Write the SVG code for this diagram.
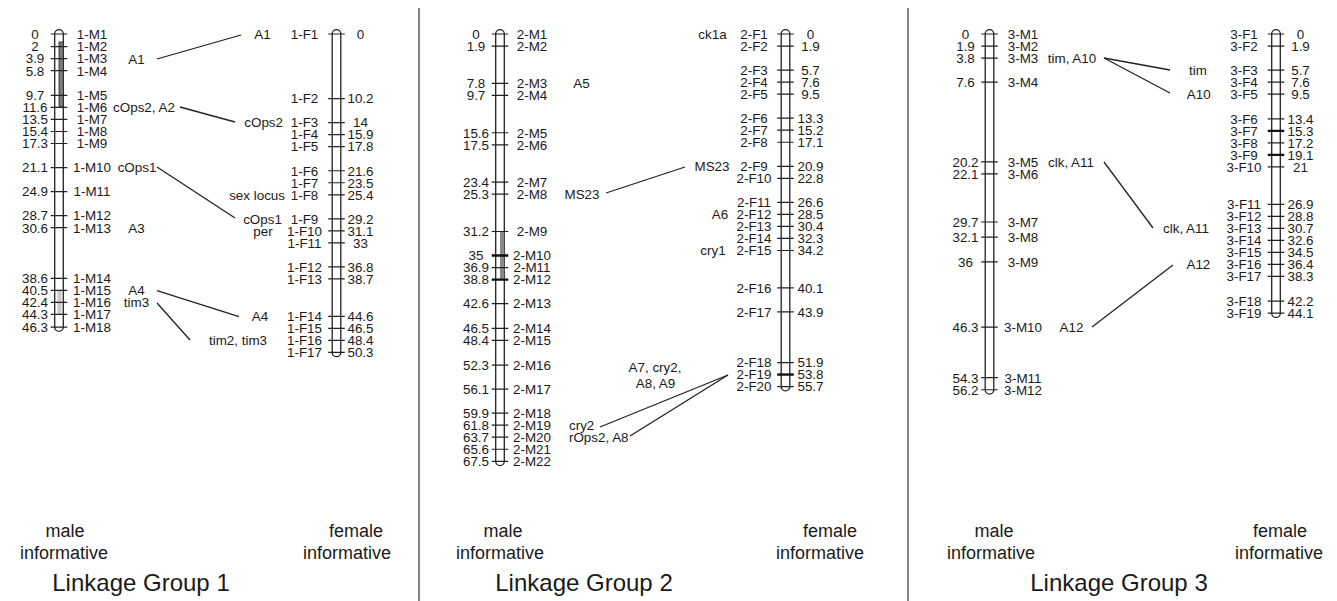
<svg xmlns="http://www.w3.org/2000/svg" width="1337" height="601" viewBox="0 0 1337 601">
<style>
text{font-family:"Liberation Sans",Arial,sans-serif;fill:#1a1a1a}
.t{font-size:13.4px;text-anchor:middle}
.e{font-size:13.4px;text-anchor:end}
.b{font-size:18px;text-anchor:middle}
.g{font-size:24px;text-anchor:middle}
.bar{fill:#fff;stroke:#222;stroke-width:1.3}
.tk{fill:none;stroke:#222;stroke-width:1.2}
.tb{fill:none;stroke:#111;stroke-width:2.4}
.sep{stroke:#333;stroke-width:1.2}
.cn{stroke:#222;stroke-width:1.3;fill:none}
</style>
<g id="separators">
<line class="sep" x1="419" y1="8" x2="419" y2="601"/>
<line class="sep" x1="908" y1="8" x2="908" y2="601"/>
</g>

<g id="lg1-male">
<path class="bar" d="M54.7,327.08 V34 A4.3,4.3 0 0 1 63.3,34 V327.08 A4.3,4.3 0 0 1 54.7,327.08 Z"/>
<rect x="59" y="42" width="4.3" height="65" fill="#7a7a7a" stroke="#222" stroke-width="0.8"/>
<rect x="57.5" y="290.4" width="4" height="24" fill="#c8c8c8"/>
<path class="tk" d="M50.7,34h16.6M50.7,46.66h16.6M50.7,58.69h16.6M50.7,70.71h16.6M50.7,95.4h16.6M50.7,107.43h16.6M50.7,119.46h16.6M50.7,131.48h16.6M50.7,143.51h16.6M50.7,167.56h16.6M50.7,191.62h16.6M50.7,215.67h16.6M50.7,227.7h16.6M50.7,278.34h16.6M50.7,290.37h16.6M50.7,302.39h16.6M50.7,314.42h16.6M50.7,327.08h16.6"/>
<text class="t" x="35" y="38.8">0</text><text class="t" x="92" y="38.8">1-M1</text>
<text class="t" x="35" y="51.46">2</text><text class="t" x="92" y="51.46">1-M2</text>
<text class="t" x="35" y="63.49">3.9</text><text class="t" x="92" y="63.49">1-M3</text>
<text class="t" x="35" y="75.51">5.8</text><text class="t" x="92" y="75.51">1-M4</text>
<text class="t" x="35" y="100.2">9.7</text><text class="t" x="92" y="100.2">1-M5</text>
<text class="t" x="35" y="112.23">11.6</text><text class="t" x="92" y="112.23">1-M6</text>
<text class="t" x="35" y="124.26">13.5</text><text class="t" x="92" y="124.26">1-M7</text>
<text class="t" x="35" y="136.28">15.4</text><text class="t" x="92" y="136.28">1-M8</text>
<text class="t" x="35" y="148.31">17.3</text><text class="t" x="92" y="148.31">1-M9</text>
<text class="t" x="35" y="172.36">21.1</text><text class="t" x="92" y="172.36">1-M10</text>
<text class="t" x="35" y="196.42">24.9</text><text class="t" x="92" y="196.42">1-M11</text>
<text class="t" x="35" y="220.47">28.7</text><text class="t" x="92" y="220.47">1-M12</text>
<text class="t" x="35" y="232.5">30.6</text><text class="t" x="92" y="232.5">1-M13</text>
<text class="t" x="35" y="283.14">38.6</text><text class="t" x="92" y="283.14">1-M14</text>
<text class="t" x="35" y="295.17">40.5</text><text class="t" x="92" y="295.17">1-M15</text>
<text class="t" x="35" y="307.19">42.4</text><text class="t" x="92" y="307.19">1-M16</text>
<text class="t" x="35" y="319.22">44.3</text><text class="t" x="92" y="319.22">1-M17</text>
<text class="t" x="35" y="331.88">46.3</text><text class="t" x="92" y="331.88">1-M18</text>
<text class="t" x="136.5" y="63.5">A1</text>
<text class="t" x="144" y="112.2">cOps2, A2</text>
<text class="t" x="137" y="172.4">cOps1</text>
<text class="t" x="136.5" y="232.5">A3</text>
<text class="t" x="136.5" y="295.2">A4</text>
<text class="t" x="136.5" y="307.2">tim3</text>
<text class="b" x="65" y="537">male</text>
<text class="b" x="64" y="559">informative</text>
</g>

<g id="lg1-female">
<path class="bar" d="M332.2,352.4 V34 A4.3,4.3 0 0 1 340.8,34 V352.4 A4.3,4.3 0 0 1 332.2,352.4 Z"/>
<path class="tk" d="M328.2,34h16.6M328.2,98.57h16.6M328.2,122.62h16.6M328.2,134.65h16.6M328.2,146.67h16.6M328.2,170.73h16.6M328.2,182.76h16.6M328.2,194.78h16.6M328.2,218.84h16.6M328.2,230.86h16.6M328.2,242.89h16.6M328.2,266.94h16.6M328.2,278.97h16.6M328.2,316.32h16.6M328.2,328.35h16.6M328.2,340.37h16.6M328.2,352.4h16.6"/>
<text class="t" x="304.5" y="38.8">1-F1</text><text class="t" x="360.5" y="38.8">0</text>
<text class="t" x="304.5" y="103.37">1-F2</text><text class="t" x="360.5" y="103.37">10.2</text>
<text class="t" x="304.5" y="127.42">1-F3</text><text class="t" x="360.5" y="127.42">14</text>
<text class="t" x="304.5" y="139.45">1-F4</text><text class="t" x="360.5" y="139.45">15.9</text>
<text class="t" x="304.5" y="151.47">1-F5</text><text class="t" x="360.5" y="151.47">17.8</text>
<text class="t" x="304.5" y="175.53">1-F6</text><text class="t" x="360.5" y="175.53">21.6</text>
<text class="t" x="304.5" y="187.56">1-F7</text><text class="t" x="360.5" y="187.56">23.5</text>
<text class="t" x="304.5" y="199.58">1-F8</text><text class="t" x="360.5" y="199.58">25.4</text>
<text class="t" x="304.5" y="223.64">1-F9</text><text class="t" x="360.5" y="223.64">29.2</text>
<text class="t" x="304.5" y="235.66">1-F10</text><text class="t" x="360.5" y="235.66">31.1</text>
<text class="t" x="304.5" y="247.69">1-F11</text><text class="t" x="360.5" y="247.69">33</text>
<text class="t" x="304.5" y="271.74">1-F12</text><text class="t" x="360.5" y="271.74">36.8</text>
<text class="t" x="304.5" y="283.77">1-F13</text><text class="t" x="360.5" y="283.77">38.7</text>
<text class="t" x="304.5" y="321.12">1-F14</text><text class="t" x="360.5" y="321.12">44.6</text>
<text class="t" x="304.5" y="333.15">1-F15</text><text class="t" x="360.5" y="333.15">46.5</text>
<text class="t" x="304.5" y="345.17">1-F16</text><text class="t" x="360.5" y="345.17">48.4</text>
<text class="t" x="304.5" y="357.2">1-F17</text><text class="t" x="360.5" y="357.2">50.3</text>
<text class="t" x="262.5" y="38.8">A1</text>
<text class="e" x="283" y="127.4">cOps2</text>
<text class="e" x="285" y="199.6">sex locus</text>
<text class="t" x="262.5" y="223.6">cOps1</text>
<text class="t" x="263" y="235.7">per</text>
<text class="t" x="260" y="321.1">A4</text>
<text class="t" x="238" y="345.2">tim2, tim3</text>
<text class="b" x="356" y="537">female</text>
<text class="b" x="347" y="559">informative</text>
</g>
<text class="g" x="141" y="591">Linkage Group 1</text>

<g id="lg2-male">
<path class="bar" d="M495.7,461.28 V34 A4.3,4.3 0 0 1 504.3,34 V461.28 A4.3,4.3 0 0 1 495.7,461.28 Z"/>
<rect x="500" y="231.5" width="4.3" height="48" fill="#8a8a8a"/>
<path class="tk" d="M491.7,34h16.6M491.7,46.03h16.6M491.7,83.37h16.6M491.7,95.4h16.6M491.7,132.75h16.6M491.7,144.78h16.6M491.7,182.12h16.6M491.7,194.15h16.6M491.7,231.5h16.6M491.7,267.58h16.6M491.7,303.66h16.6M491.7,328.35h16.6M491.7,340.37h16.6M491.7,365.06h16.6M491.7,389.11h16.6M491.7,413.17h16.6M491.7,425.19h16.6M491.7,437.22h16.6M491.7,449.25h16.6M491.7,461.28h16.6"/>
<path class="tb" d="M491.7,255.55h16.6M491.7,279.6h16.6"/>
<text class="t" x="476" y="38.8">0</text><text class="t" x="532" y="38.8">2-M1</text>
<text class="t" x="476" y="50.83">1.9</text><text class="t" x="532" y="50.83">2-M2</text>
<text class="t" x="476" y="88.17">7.8</text><text class="t" x="532" y="88.17">2-M3</text>
<text class="t" x="476" y="100.2">9.7</text><text class="t" x="532" y="100.2">2-M4</text>
<text class="t" x="476" y="137.55">15.6</text><text class="t" x="532" y="137.55">2-M5</text>
<text class="t" x="476" y="149.58">17.5</text><text class="t" x="532" y="149.58">2-M6</text>
<text class="t" x="476" y="186.92">23.4</text><text class="t" x="532" y="186.92">2-M7</text>
<text class="t" x="476" y="198.95">25.3</text><text class="t" x="532" y="198.95">2-M8</text>
<text class="t" x="476" y="236.3">31.2</text><text class="t" x="532" y="236.3">2-M9</text>
<text class="t" x="476" y="260.35">35</text><text class="t" x="532" y="260.35">2-M10</text>
<text class="t" x="476" y="272.38">36.9</text><text class="t" x="532" y="272.38">2-M11</text>
<text class="t" x="476" y="284.4">38.8</text><text class="t" x="532" y="284.4">2-M12</text>
<text class="t" x="476" y="308.46">42.6</text><text class="t" x="532" y="308.46">2-M13</text>
<text class="t" x="476" y="333.15">46.5</text><text class="t" x="532" y="333.15">2-M14</text>
<text class="t" x="476" y="345.17">48.4</text><text class="t" x="532" y="345.17">2-M15</text>
<text class="t" x="476" y="369.86">52.3</text><text class="t" x="532" y="369.86">2-M16</text>
<text class="t" x="476" y="393.91">56.1</text><text class="t" x="532" y="393.91">2-M17</text>
<text class="t" x="476" y="417.97">59.9</text><text class="t" x="532" y="417.97">2-M18</text>
<text class="t" x="476" y="429.99">61.8</text><text class="t" x="532" y="429.99">2-M19</text>
<text class="t" x="476" y="442.02">63.7</text><text class="t" x="532" y="442.02">2-M20</text>
<text class="t" x="476" y="454.05">65.6</text><text class="t" x="532" y="454.05">2-M21</text>
<text class="t" x="476" y="466.08">67.5</text><text class="t" x="532" y="466.08">2-M22</text>
<text class="t" x="581.5" y="88.2">A5</text>
<text class="t" x="582" y="199">MS23</text>
<text x="569" y="430" font-size="13.4">cry2</text>
<text x="569" y="442" font-size="13.4">rOps2, A8</text>
<text class="b" x="503" y="537">male</text>
<text class="b" x="500" y="559">informative</text>
</g>

<g id="lg2-female">
<path class="bar" d="M781.2,386.58 V34 A4.3,4.3 0 0 1 789.8,34 V386.58 A4.3,4.3 0 0 1 781.2,386.58 Z"/>
<path class="tk" d="M777.2,34h16.6M777.2,46.03h16.6M777.2,70.08h16.6M777.2,82.11h16.6M777.2,94.14h16.6M777.2,118.19h16.6M777.2,130.22h16.6M777.2,142.24h16.6M777.2,166.3h16.6M777.2,178.32h16.6M777.2,202.38h16.6M777.2,214.41h16.6M777.2,226.43h16.6M777.2,238.46h16.6M777.2,250.49h16.6M777.2,287.83h16.6M777.2,311.89h16.6M777.2,362.53h16.6M777.2,386.58h16.6"/>
<path class="tb" d="M777.2,374.55h16.6"/>
<text class="t" x="754" y="38.8">2-F1</text><text class="t" x="810.5" y="38.8">0</text>
<text class="t" x="754" y="50.83">2-F2</text><text class="t" x="810.5" y="50.83">1.9</text>
<text class="t" x="754" y="74.88">2-F3</text><text class="t" x="810.5" y="74.88">5.7</text>
<text class="t" x="754" y="86.91">2-F4</text><text class="t" x="810.5" y="86.91">7.6</text>
<text class="t" x="754" y="98.94">2-F5</text><text class="t" x="810.5" y="98.94">9.5</text>
<text class="t" x="754" y="122.99">2-F6</text><text class="t" x="810.5" y="122.99">13.3</text>
<text class="t" x="754" y="135.02">2-F7</text><text class="t" x="810.5" y="135.02">15.2</text>
<text class="t" x="754" y="147.04">2-F8</text><text class="t" x="810.5" y="147.04">17.1</text>
<text class="t" x="754" y="171.1">2-F9</text><text class="t" x="810.5" y="171.1">20.9</text>
<text class="t" x="754" y="183.12">2-F10</text><text class="t" x="810.5" y="183.12">22.8</text>
<text class="t" x="754" y="207.18">2-F11</text><text class="t" x="810.5" y="207.18">26.6</text>
<text class="t" x="754" y="219.21">2-F12</text><text class="t" x="810.5" y="219.21">28.5</text>
<text class="t" x="754" y="231.23">2-F13</text><text class="t" x="810.5" y="231.23">30.4</text>
<text class="t" x="754" y="243.26">2-F14</text><text class="t" x="810.5" y="243.26">32.3</text>
<text class="t" x="754" y="255.29">2-F15</text><text class="t" x="810.5" y="255.29">34.2</text>
<text class="t" x="754" y="292.63">2-F16</text><text class="t" x="810.5" y="292.63">40.1</text>
<text class="t" x="754" y="316.69">2-F17</text><text class="t" x="810.5" y="316.69">43.9</text>
<text class="t" x="754" y="367.33">2-F18</text><text class="t" x="810.5" y="367.33">51.9</text>
<text class="t" x="754" y="379.35">2-F19</text><text class="t" x="810.5" y="379.35">53.8</text>
<text class="t" x="754" y="391.38">2-F20</text><text class="t" x="810.5" y="391.38">55.7</text>
<text class="t" x="712.5" y="38.8">ck1a</text>
<text class="t" x="712" y="171.1">MS23</text>
<text class="t" x="720" y="219.2">A6</text>
<text class="t" x="713" y="255.3">cry1</text>
<text class="t" x="655" y="372">A7, cry2,</text>
<text class="t" x="655.5" y="388">A8, A9</text>
<text class="b" x="830" y="537">female</text>
<text class="b" x="820" y="559">informative</text>
</g>
<text class="g" x="584" y="591">Linkage Group 2</text>

<g id="lg3-male">
<path class="bar" d="M985.2,389.75 V34 A4.3,4.3 0 0 1 993.8,34 V389.75 A4.3,4.3 0 0 1 985.2,389.75 Z"/>
<path class="tk" d="M981.2,34h16.6M981.2,46.03h16.6M981.2,58.05h16.6M981.2,82.11h16.6M981.2,161.87h16.6M981.2,173.89h16.6M981.2,222h16.6M981.2,237.19h16.6M981.2,261.88h16.6M981.2,327.08h16.6M981.2,377.72h16.6M981.2,389.75h16.6"/>
<text class="t" x="965.5" y="38.8">0</text><text class="t" x="1023" y="38.8">3-M1</text>
<text class="t" x="965.5" y="50.83">1.9</text><text class="t" x="1023" y="50.83">3-M2</text>
<text class="t" x="965.5" y="62.85">3.8</text><text class="t" x="1023" y="62.85">3-M3</text>
<text class="t" x="965.5" y="86.91">7.6</text><text class="t" x="1023" y="86.91">3-M4</text>
<text class="t" x="965.5" y="166.67">20.2</text><text class="t" x="1023" y="166.67">3-M5</text>
<text class="t" x="965.5" y="178.69">22.1</text><text class="t" x="1023" y="178.69">3-M6</text>
<text class="t" x="965.5" y="226.8">29.7</text><text class="t" x="1023" y="226.8">3-M7</text>
<text class="t" x="965.5" y="241.99">32.1</text><text class="t" x="1023" y="241.99">3-M8</text>
<text class="t" x="965.5" y="266.68">36</text><text class="t" x="1023" y="266.68">3-M9</text>
<text class="t" x="965.5" y="331.88">46.3</text><text class="t" x="1023" y="331.88">3-M10</text>
<text class="t" x="965.5" y="382.52">54.3</text><text class="t" x="1023" y="382.52">3-M11</text>
<text class="t" x="965.5" y="394.55">56.2</text><text class="t" x="1023" y="394.55">3-M12</text>
<text class="t" x="1072" y="62.9">tim, A10</text>
<text class="t" x="1071" y="166.7">clk, A11</text>
<text class="t" x="1071.5" y="331.9">A12</text>
<text class="b" x="994" y="537">male</text>
<text class="b" x="991" y="559">informative</text>
</g>

<g id="lg3-female">
<path class="bar" d="M1271.7,313.15 V34 A4.3,4.3 0 0 1 1280.3,34 V313.15 A4.3,4.3 0 0 1 1271.7,313.15 Z"/>
<path class="tk" d="M1267.7,34h16.6M1267.7,46.03h16.6M1267.7,70.08h16.6M1267.7,82.11h16.6M1267.7,94.14h16.6M1267.7,118.82h16.6M1267.7,142.88h16.6M1267.7,166.93h16.6M1267.7,204.28h16.6M1267.7,216.3h16.6M1267.7,228.33h16.6M1267.7,240.36h16.6M1267.7,252.39h16.6M1267.7,264.41h16.6M1267.7,276.44h16.6M1267.7,301.13h16.6M1267.7,313.15h16.6"/>
<path class="tb" d="M1267.7,130.85h16.6M1267.7,154.9h16.6"/>
<text class="t" x="1244" y="38.8">3-F1</text><text class="t" x="1300.5" y="38.8">0</text>
<text class="t" x="1244" y="50.83">3-F2</text><text class="t" x="1300.5" y="50.83">1.9</text>
<text class="t" x="1244" y="74.88">3-F3</text><text class="t" x="1300.5" y="74.88">5.7</text>
<text class="t" x="1244" y="86.91">3-F4</text><text class="t" x="1300.5" y="86.91">7.6</text>
<text class="t" x="1244" y="98.94">3-F5</text><text class="t" x="1300.5" y="98.94">9.5</text>
<text class="t" x="1244" y="123.62">3-F6</text><text class="t" x="1300.5" y="123.62">13.4</text>
<text class="t" x="1244" y="135.65">3-F7</text><text class="t" x="1300.5" y="135.65">15.3</text>
<text class="t" x="1244" y="147.68">3-F8</text><text class="t" x="1300.5" y="147.68">17.2</text>
<text class="t" x="1244" y="159.7">3-F9</text><text class="t" x="1300.5" y="159.7">19.1</text>
<text class="t" x="1244" y="171.73">3-F10</text><text class="t" x="1300.5" y="171.73">21</text>
<text class="t" x="1244" y="209.08">3-F11</text><text class="t" x="1300.5" y="209.08">26.9</text>
<text class="t" x="1244" y="221.1">3-F12</text><text class="t" x="1300.5" y="221.1">28.8</text>
<text class="t" x="1244" y="233.13">3-F13</text><text class="t" x="1300.5" y="233.13">30.7</text>
<text class="t" x="1244" y="245.16">3-F14</text><text class="t" x="1300.5" y="245.16">32.6</text>
<text class="t" x="1244" y="257.19">3-F15</text><text class="t" x="1300.5" y="257.19">34.5</text>
<text class="t" x="1244" y="269.21">3-F16</text><text class="t" x="1300.5" y="269.21">36.4</text>
<text class="t" x="1244" y="281.24">3-F17</text><text class="t" x="1300.5" y="281.24">38.3</text>
<text class="t" x="1244" y="305.93">3-F18</text><text class="t" x="1300.5" y="305.93">42.2</text>
<text class="t" x="1244" y="317.95">3-F19</text><text class="t" x="1300.5" y="317.95">44.1</text>
<text class="t" x="1198" y="74.9">tim</text>
<text class="t" x="1198.7" y="98.9">A10</text>
<text class="t" x="1186" y="233.1">clk, A11</text>
<text class="t" x="1198.4" y="269.2">A12</text>
<text class="b" x="1280" y="537">female</text>
<text class="b" x="1279" y="559">informative</text>
</g>
<text class="g" x="1119" y="591">Linkage Group 3</text>

<g id="connectors">
<line class="cn" x1="157" y1="59" x2="241" y2="35"/>
<line class="cn" x1="180" y1="107" x2="235" y2="122"/>
<line class="cn" x1="157" y1="167" x2="235" y2="218"/>
<line class="cn" x1="157" y1="290.7" x2="239" y2="316.7"/>
<line class="cn" x1="157" y1="303" x2="190" y2="340"/>
<line class="cn" x1="606" y1="193" x2="685" y2="167"/>
<line class="cn" x1="728" y1="375" x2="600" y2="427"/>
<line class="cn" x1="728" y1="375" x2="630" y2="436"/>
<line class="cn" x1="1104" y1="58" x2="1170" y2="70"/>
<line class="cn" x1="1104" y1="58" x2="1170" y2="93"/>
<line class="cn" x1="1104" y1="162" x2="1153" y2="228"/>
<line class="cn" x1="1092" y1="327" x2="1173" y2="265"/>
</g>
</svg>
